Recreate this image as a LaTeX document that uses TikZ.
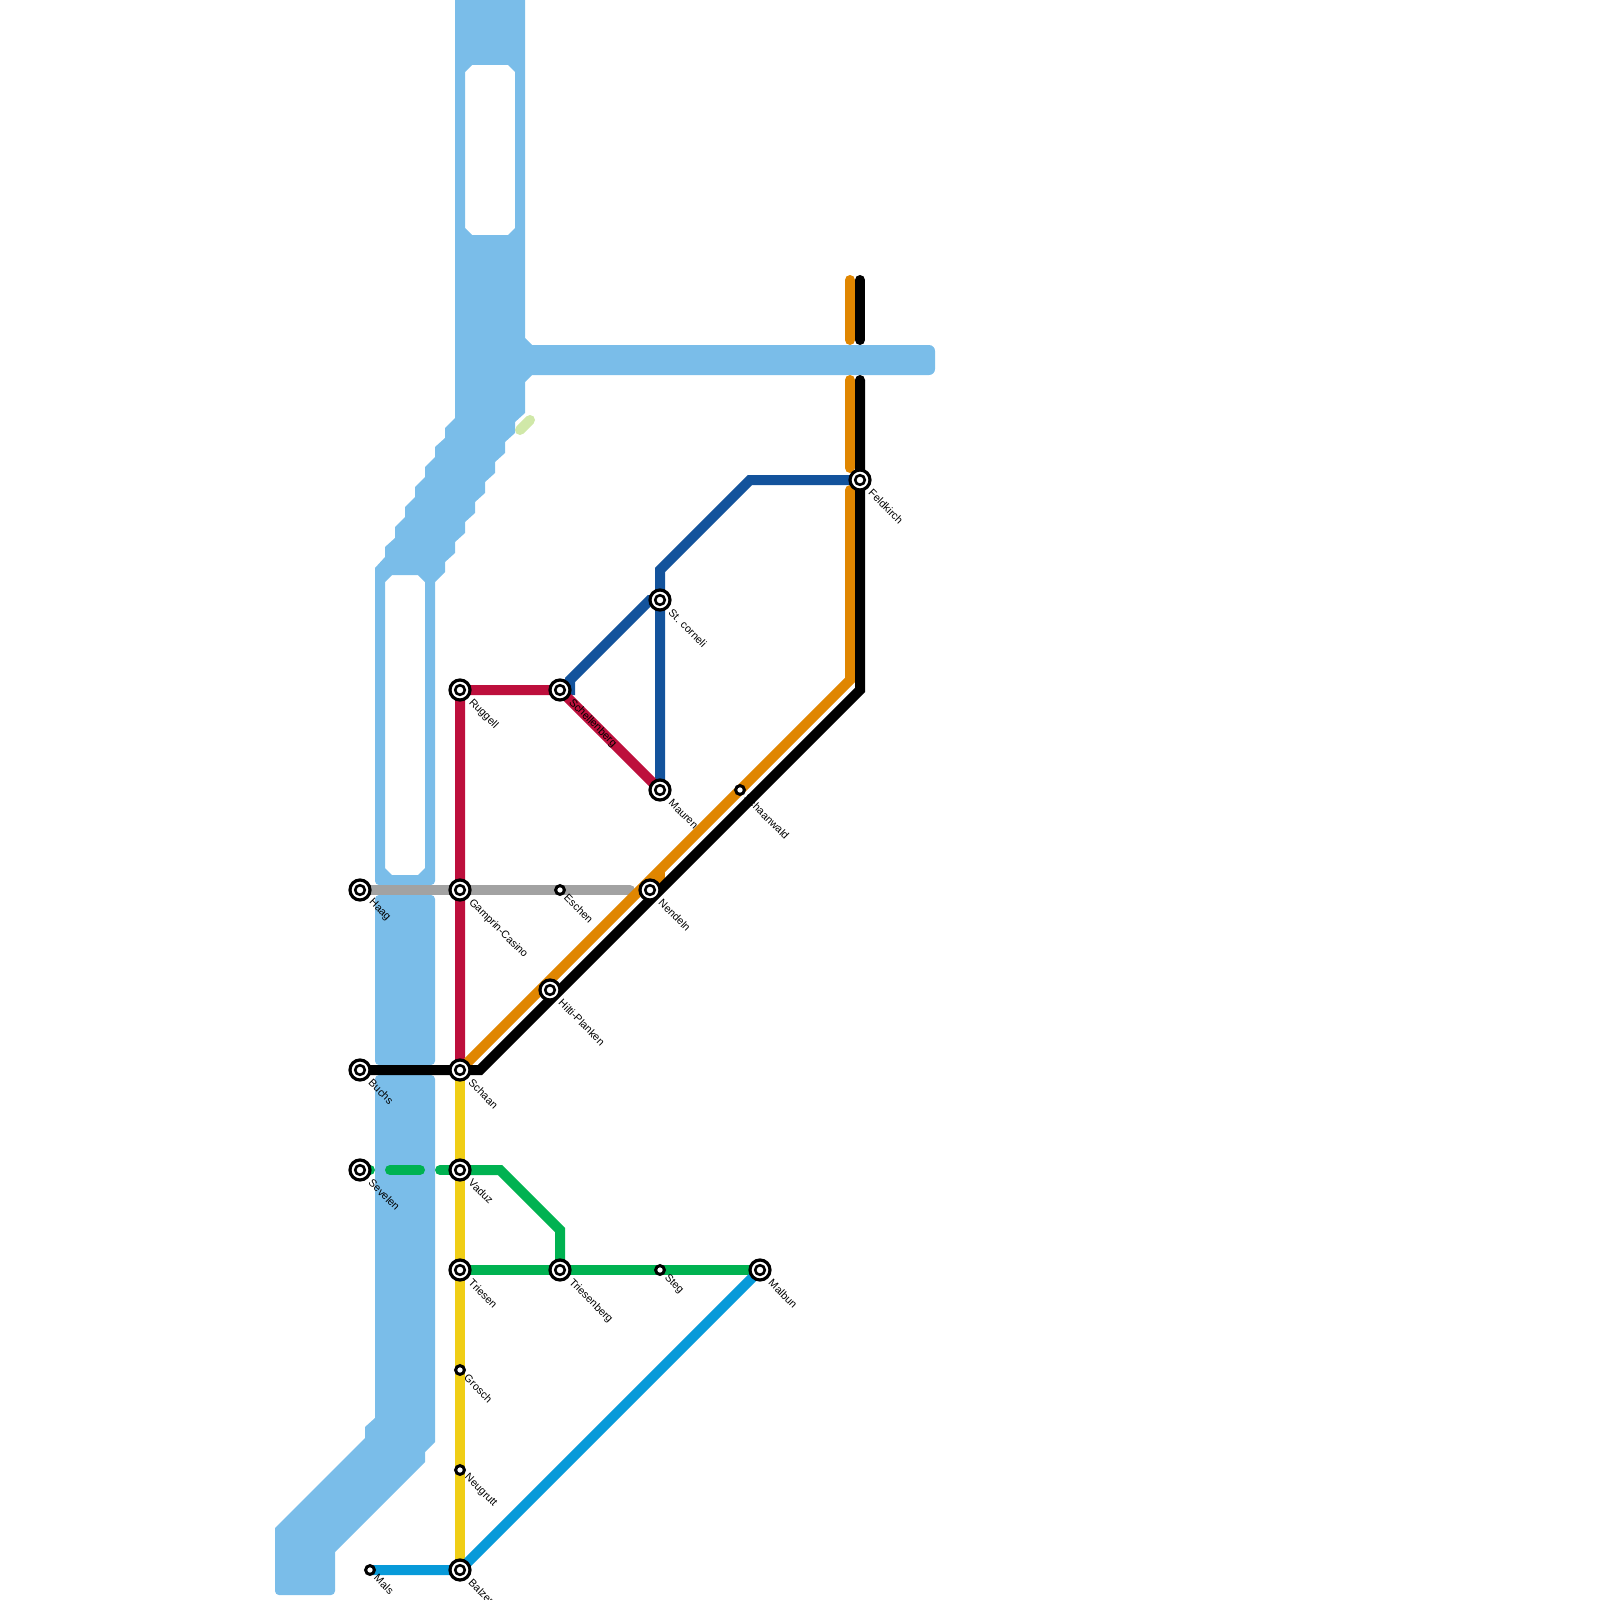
\documentclass[tikz,border=0pt]{standalone}
\usepackage{fontspec}
\setmainfont{Liberation Sans}
\usetikzlibrary{backgrounds}
\definecolor{water}{HTML}{7ABDE9}
\definecolor{orangeline}{HTML}{E08600}
\definecolor{navyline}{HTML}{13539C}
\definecolor{crimsonline}{HTML}{BD0F3C}
\definecolor{yellowline}{HTML}{F0CE15}
\definecolor{greenline}{HTML}{00B251}
\definecolor{skyline}{HTML}{079AD9}
\definecolor{grayline}{HTML}{A2A2A2}
\definecolor{paleline}{HTML}{D0E8A8}
\tikzset{
  bigstn/.style={circle,draw=black,fill=white,line width=3.2pt,minimum size=20pt,inner sep=0pt,outer sep=0pt,
    path picture={\draw[black,line width=2.6pt] (path picture bounding box.center) circle (4.8pt);}},
  smallstn/.style={circle,draw=black,fill=white,line width=3pt,minimum size=8.8pt,inner sep=0pt,outer sep=0pt},
  lbl/.style={rotate=-45,anchor=west,inner sep=0pt,font=\fontsize{10.7}{11}\selectfont,text=black},
  metro/.style={line width=10pt,line join=miter,line cap=butt},
  rmetro/.style={line width=10pt,line join=miter,line cap=round},
  waterfill/.style={fill=water,draw=none,even odd rule}
}
\begin{document}
\begin{tikzpicture}[x=1pt,y=-1pt]
\useasboundingbox (0,0) rectangle (1600,1600);
% stations
\foreach \n/\x/\y in {haag/360/890,gamprin/460/890,schaan/460/1070,buchs/360/1070,sevelen/360/1170,vaduz/460/1170,
  triesen/460/1270,triesenberg/560/1270,malbun/760/1270,balzers/460/1570,ruggell/460/690,schellenberg/560/690,
  corneli/660/600,mauren/660/790,nendeln/650/890,hilti/550/990,feldkirch/860/480}
  {\node[bigstn] (\n) at (\x,\y) {};}
\foreach \n/\x/\y in {eschen/560/890,schaanwald/740/790,steg/660/1270,grosch/460/1370,neugrutt/460/1470,mals/370/1570}
  {\node[smallstn] (\n) at (\x,\y) {};}
% free line ends and bends
\coordinate (o1) at (850,280); \coordinate (o2) at (850,340);
\coordinate (o3) at (850,380); \coordinate (o4) at (850,468);
\coordinate (o5) at (850,490); \coordinate (o6) at (850,680);
\coordinate (o7) at (660,870); \coordinate (o8) at (660,884);
\coordinate (b1) at (860,280); \coordinate (b2) at (860,340);
\coordinate (b3) at (860,380); \coordinate (b4) at (860,690);
\coordinate (b5) at (480,1070);
\coordinate (n1) at (660,570); \coordinate (n2) at (750,480);
\coordinate (n3) at (650,600); \coordinate (n4) at (570,680); \coordinate (n5) at (570,690);
\coordinate (g1) at (370,1170); \coordinate (g2) at (390,1170);
\coordinate (g3) at (420,1170); \coordinate (g4) at (440,1170);
\coordinate (g5) at (500,1170); \coordinate (g6) at (560,1230);
\coordinate (y1) at (630,890);
\coordinate (p1) at (520,430); \coordinate (p2) at (530,420);
\begin{scope}[on background layer]
% water
\fill[waterfill] (455,0) -- (525,0) -- (525,338) -- (532,345) -- (929,345)
  arc[start angle=-90,end angle=0,radius=6] -- (935,369) arc[start angle=0,end angle=90,radius=6]
  -- (532,375) -- (525,382) -- (525,413) -- (515,422) -- (515,433) -- (505,442) -- (505,453)
  -- (495,462) -- (495,473) -- (485,482) -- (485,493) -- (475,502) -- (475,513) -- (465,522)
  -- (465,533) -- (455,542) -- (455,553) -- (445,562) -- (445,572) -- (435,582) -- (435,881)
  arc[start angle=0,end angle=90,radius=4] -- (379,885) arc[start angle=90,end angle=180,radius=4]
  -- (375,568) -- (385,557) -- (385,547) -- (395,538) -- (395,527) -- (405,517) -- (405,507)
  -- (415,497) -- (415,487) -- (425,477) -- (425,467) -- (435,457) -- (435,447) -- (445,438)
  -- (445,428) -- (455,418) -- cycle
  (465,72) -- (472,65) -- (508,65) -- (515,72) -- (515,228) -- (508,235) -- (472,235) -- (465,228) -- cycle
  (385,582) -- (392,575) -- (418,575) -- (425,582) -- (425,868) -- (418,875) -- (392,875) -- (385,868) -- cycle;
\fill[waterfill] (379,895) -- (431,895) arc[start angle=-90,end angle=0,radius=4] -- (435,1061)
  arc[start angle=0,end angle=90,radius=4] -- (379,1065) arc[start angle=90,end angle=180,radius=4]
  -- (375,899) arc[start angle=180,end angle=270,radius=4] -- cycle;
\fill[waterfill] (379,1075) -- (431,1075) arc[start angle=-90,end angle=0,radius=4] -- (435,1442)
  -- (425,1452) -- (425,1462) -- (335,1552) -- (335,1591) arc[start angle=0,end angle=90,radius=4]
  -- (279,1595) arc[start angle=90,end angle=180,radius=4] -- (275,1528) -- (365,1438) -- (365,1427)
  -- (375,1418) -- (375,1079) arc[start angle=180,end angle=270,radius=4] -- cycle;
% lines
\draw[rmetro,paleline] (p1) -- (p2);
\draw[rmetro,grayline] (haag.center) -- (y1);
\draw[metro,navyline] (mauren.center) -- (n1) -- (n2) -- (feldkirch.center);
\draw[metro,navyline] (corneli.center) -- (n3) -- (n4) -- (n5) -- (schellenberg.center);
\draw[metro,crimsonline] (schaan.center) -- (ruggell.center) -- (schellenberg.center) -- (mauren.center);
\draw[metro,yellowline] (schaan.center) -- (balzers.center);
\draw[rmetro,greenline] (sevelen.center) -- (g1);
\draw[rmetro,greenline] (g2) -- (g3);
\draw[rmetro,greenline] (g4) -- (vaduz.center);
\draw[metro,greenline] (vaduz.center) -- (g5) -- (g6) -- (triesenberg.center);
\draw[metro,greenline] (triesen.center) -- (malbun.center);
\draw[metro,skyline] (mals.center) -- (balzers.center) -- (malbun.center);
\draw[rmetro,orangeline] (o1) -- (o2);
\draw[rmetro,orangeline] (o3) -- (o4);
\fill[orangeline] (o5) circle (5);
\draw[metro,orangeline] (o5) -- (o6) -- (schaan.center);
\draw[metro,orangeline] (o7) -- (o8);
\draw[rmetro,black] (b1) -- (b2);
\fill[black] (b3) circle (5);
\draw[metro,black] (b3) -- (b4) -- (b5) -- (buchs.center);
\end{scope}
% labels
\foreach \n/\t/\x/\y in {haag/Haag/370.5/901,gamprin/Gamprin-Casino/470.5/901,schaan/Schaan/470.5/1081,buchs/Buchs/370.5/1081,
  sevelen/Sevelen/370.5/1181,vaduz/Vaduz/470.5/1181,triesen/Triesen/470.5/1281,triesenberg/Triesenberg/570.5/1281,
  malbun/Malbun/770.5/1281,balzers/Balzers/470.5/1581,ruggell/Ruggell/470.5/701,schellenberg/Schellenberg/570.5/701,
  corneli/St. corneli/670.5/611,mauren/Mauren/670.5/801,nendeln/Nendeln/660.5/901,hilti/Hilti-Planken/560.5/1001,
  feldkirch/Feldkirch/870.5/491,eschen/Eschen/566/896,schaanwald/Schaanwald/746/796,steg/Steg/666/1276,
  grosch/Grosch/466/1376,neugrutt/Neugrutt/466/1476,mals/Mals/376/1576}
  {\node[lbl] (l\n) at (\x,\y) {\t};}
\end{tikzpicture}
\end{document}
